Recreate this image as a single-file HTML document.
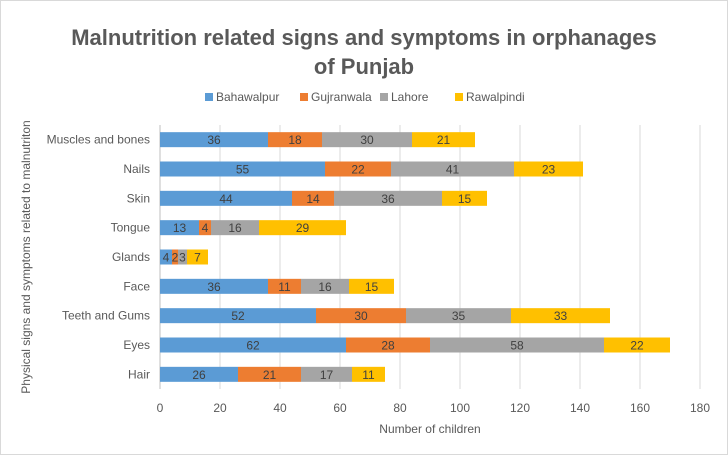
<!DOCTYPE html>
<html><head><meta charset="utf-8"><style>
body{margin:0;background:#fff;font-family:"Liberation Sans",Calibri,sans-serif}
svg text{font-family:"Liberation Sans",sans-serif}
</style></head><body>
<svg id="c" width="728" height="455" xmlns="http://www.w3.org/2000/svg">
<rect x="0.5" y="0.5" width="727" height="454" fill="#fff" stroke="#d9d9d9"/>
<text x="364" y="45" text-anchor="middle" font-size="22" font-weight="bold" fill="#595959">Malnutrition related signs and symptoms in orphanages</text>
<text x="364" y="74" text-anchor="middle" font-size="22" font-weight="bold" fill="#595959">of Punjab</text>
<g id="legend"></g>
<g id="grid"></g><g id="bars"></g><g id="labels"></g>
<text x="430" y="433" text-anchor="middle" font-size="12" fill="#595959">Number of children</text>
<text transform="translate(30,257) rotate(-90)" text-anchor="middle" font-size="12" fill="#595959">Physical signs and symptoms related to malnutriton</text>
</svg>
<script>
const categories=["Hair","Eyes","Teeth and Gums","Face","Glands","Tongue","Skin","Nails","Muscles and bones"];
const seriesNames=["Bahawalpur","Gujranwala","Lahore","Rawalpindi"];
const bahawalpur=[26,62,52,36,4,13,44,55,36];
const gujranwala=[21,28,30,11,2,4,14,22,18];
const lahore=[17,58,35,16,3,16,36,41,30];
const rawalpindi=[11,22,33,15,7,29,15,23,21];
const ticks=[0,20,40,60,80,100,120,140,160,180];
{
const colors=["#5B9BD5","#ED7D31","#A5A5A5","#FFC000"];
const series=[bahawalpur,gujranwala,lahore,rawalpindi];
const NS="http://www.w3.org/2000/svg";
const x0=160,x1=700,xmax=180,yTop=125,yBottom=389;
const xs=v=>x0+v/xmax*(x1-x0);
const band=(yBottom-yTop)/categories.length;
const yc=i=>yBottom-band*(i+0.5);
function mk(t,a,p){const e=document.createElementNS(NS,t);for(const k in a)e.setAttribute(k,a[k]);p.appendChild(e);return e;}
const grid=document.getElementById('grid'),bars=document.getElementById('bars'),labels=document.getElementById('labels'),leg=document.getElementById('legend');
ticks.forEach(t=>{
 const l=mk('line',{x1:xs(t),x2:xs(t),y1:yTop,y2:yBottom,stroke:t===0?'#bfbfbf':'#d9d9d9','stroke-width':1},grid);
 
 
 const tx=mk('text',{x:xs(t),y:412,'text-anchor':'middle','font-size':12,fill:'#595959'},grid);
 tx.textContent=t;
 
 
});
categories.forEach((c,i)=>{
 const tx=mk('text',{x:150,y:yc(i)+4,'text-anchor':'end','font-size':12,fill:'#595959'},labels);
 tx.textContent=c;
 
 
 let acc=0;
 series.forEach((s,j)=>{
  const v=s[i];
  const r=mk('rect',{x:xs(acc),y:yc(i)-7.5,width:xs(acc+v)-xs(acc),height:15,fill:colors[j]},bars);
  
  
  const vt=mk('text',{x:(xs(acc)+xs(acc+v))/2,y:yc(i)+4.5,'text-anchor':'middle','font-size':12,fill:'#404040'},bars);
  vt.textContent=v;
  
  
  acc+=v;
 });
});
const lx=[205,300,380,455];
seriesNames.forEach((n,j)=>{
 const r=mk('rect',{x:lx[j],y:93,width:8,height:8,fill:colors[j]},leg);
 
 
 const t=mk('text',{x:lx[j]+11,y:101,'font-size':12,fill:'#595959'},leg);
 t.textContent=n;
 
 
});
}
</script>
</body></html>
